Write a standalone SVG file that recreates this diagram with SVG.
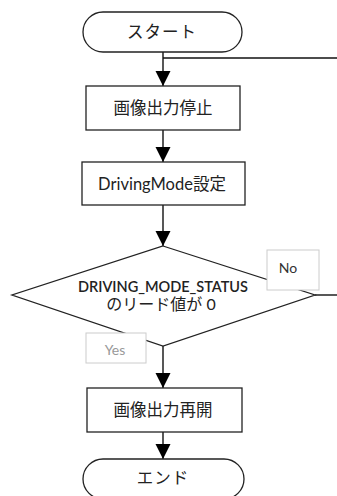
<svg xmlns="http://www.w3.org/2000/svg" width="337" height="496" viewBox="0 0 337 496">
<defs>
<marker id="arr" markerWidth="15" markerHeight="16" refX="15" refY="7.5" orient="auto" markerUnits="userSpaceOnUse">
<path d="M0,0 L15,7.5 L0,15 Z" fill="#000"/>
</marker>
<style>
.shape{fill:#fff;stroke:#222;stroke-width:1.3}
.lbl{fill:#fff;stroke:#ccc;stroke-width:1}
.t{font-family:Lato,"Noto Sans CJK JP",sans-serif;font-size:16.5px;fill:#222;text-anchor:middle;dominant-baseline:central}
.d{font-family:Lato,"Noto Sans CJK JP",sans-serif;font-size:14.5px;font-weight:600;fill:#222;text-anchor:middle;dominant-baseline:central}
.d2{font-family:Lato,"Noto Sans CJK JP",sans-serif;font-size:16px;fill:#222;text-anchor:middle;dominant-baseline:central}
.s{font-family:Lato,"Noto Sans CJK JP",sans-serif;font-size:14px;text-anchor:middle;dominant-baseline:central}
.c{fill:none;stroke:#111;stroke-width:1.4}
</style>
</defs>
<g id="connectors">
<path class="c" d="M163,52 V86" marker-end="url(#arr)"/>
<path class="c" d="M163,58 H337"/>
<path class="c" d="M163,130 V162" marker-end="url(#arr)"/>
<path class="c" d="M163,205 V246" marker-end="url(#arr)"/>
<path class="c" d="M315,295 H337"/>
<path class="c" d="M163,346 V388" marker-end="url(#arr)"/>
<path class="c" d="M163,432 V459" marker-end="url(#arr)"/>
</g>
<g id="start">
<rect class="shape" x="83" y="12" width="159" height="40" rx="20" ry="20"/>
<text class="t" x="162" y="32" letter-spacing="1">スタート</text>
</g>
<g id="stop">
<rect class="shape" x="86" y="86" width="154" height="44"/>
<text class="t" x="163" y="108">画像出力停止</text>
</g>
<g id="mode">
<rect class="shape" x="82" y="162" width="163" height="43"/>
<text class="t" x="162" y="184">DrivingMode設定</text>
</g>
<g id="decision">
<polygon class="shape" points="163,246 315,295 163,346 12,295"/>
<text class="d" x="163" y="286">DRIVING_MODE_STATUS</text>
<text class="d2" x="161" y="303">のリード値が 0</text>
</g>
<g id="label-no">
<rect class="lbl" x="267" y="250" width="52" height="40"/>
<text class="s" x="288" y="267" fill="#333">No</text>
</g>
<g id="label-yes">
<rect class="lbl" x="86" y="333" width="60" height="30"/>
<text class="s" x="115" y="349" fill="#999">Yes</text>
</g>
<g id="resume">
<rect class="shape" x="87" y="388" width="155" height="44"/>
<text class="t" x="163" y="410">画像出力再開</text>
</g>
<g id="end">
<rect class="shape" x="83" y="459" width="161" height="40" rx="20" ry="20"/>
<text class="t" x="163" y="478" letter-spacing="1">エンド</text>
</g>
</svg>
